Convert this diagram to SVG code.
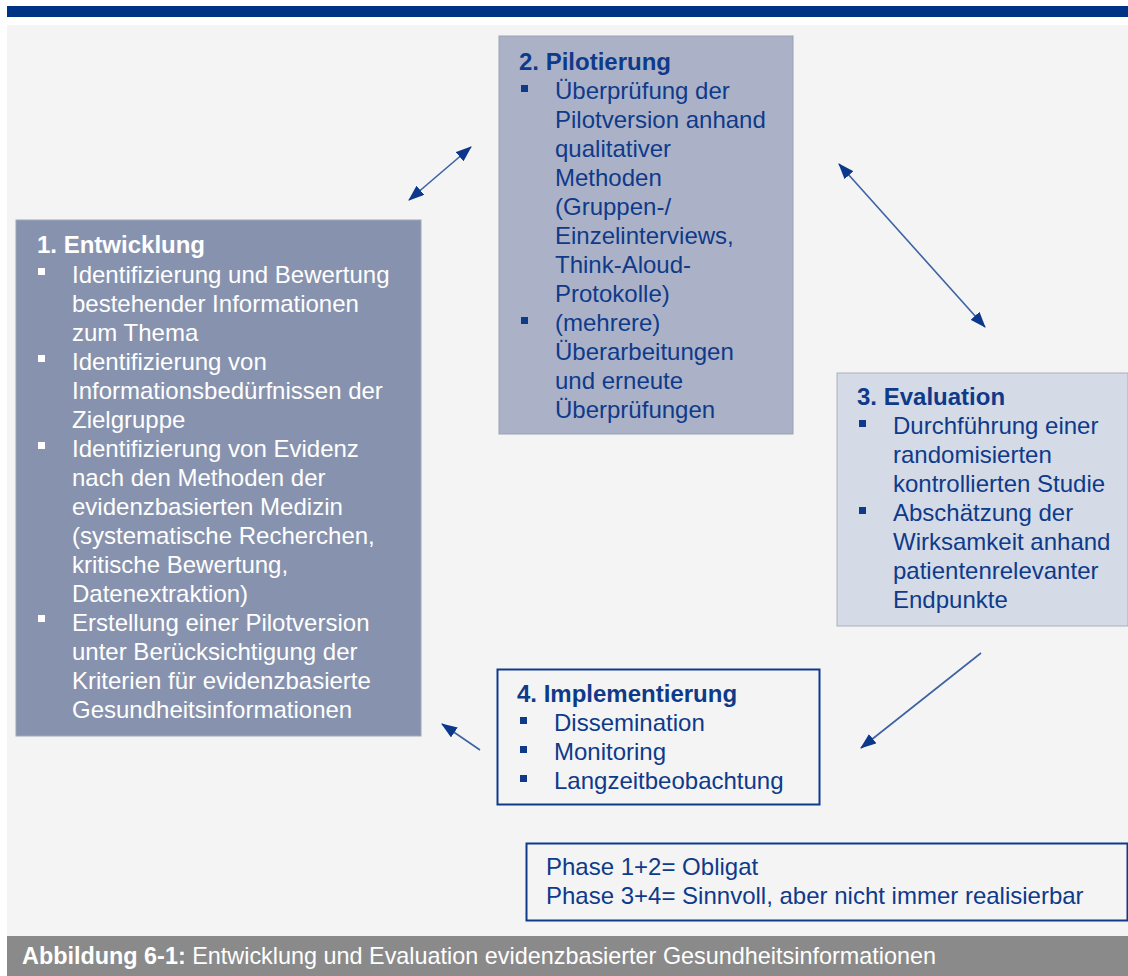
<svg xmlns="http://www.w3.org/2000/svg" width="1128" height="976" viewBox="0 0 1128 976">
<defs>
<style>
text{font-family:"Liberation Sans",Arial,sans-serif;font-size:24px}
.w{fill:#ffffff}
.b{fill:#0f3a8a}
.t{font-weight:bold}
.bw{fill:#ffffff}
.bb{fill:#0f3a8a}
.con{stroke:#3d62a3;stroke-width:1.6;fill:none}
.cap{font-size:23.4px;fill:#ffffff}
</style>
<marker id="ah" viewBox="0 0 16 12" refX="15" refY="6" markerWidth="16" markerHeight="12" markerUnits="userSpaceOnUse" orient="auto-start-reverse">
<path d="M0,0 L16,6 L0,12 z" fill="#0b388a"/>
</marker>
</defs>
<rect x="0" y="0" width="1128" height="976" fill="#ffffff"/>
<rect x="7" y="6" width="1121" height="11" fill="#003383"/>
<rect x="7" y="25" width="1121" height="911" fill="#f4f4f4"/>

<g id="connectors">
<line class="con" x1="409" y1="200" x2="471" y2="147" marker-start="url(#ah)" marker-end="url(#ah)"/>
<line class="con" x1="839" y1="164" x2="985" y2="327" marker-start="url(#ah)" marker-end="url(#ah)"/>
<line class="con" x1="981" y1="653" x2="861" y2="748" marker-end="url(#ah)"/>
<line class="con" x1="480" y1="750" x2="442" y2="724" marker-end="url(#ah)"/>
</g>

<g id="node1">
<rect x="16" y="220" width="405" height="516" fill="#8793ae" stroke="#9ea6b8" stroke-width="1"/>
<text class="w t" x="37" y="253">1. Entwicklung</text>
<g class="bw">
<rect x="38" y="268" width="7" height="7"/>
<rect x="38" y="355" width="7" height="7"/>
<rect x="38" y="442" width="7" height="7"/>
<rect x="38" y="615" width="7" height="7"/>
</g>
<text class="w">
<tspan x="72" y="283">Identifizierung und Bewertung</tspan>
<tspan x="72" y="312">bestehender Informationen</tspan>
<tspan x="72" y="341">zum Thema</tspan>
<tspan x="72" y="370">Identifizierung von</tspan>
<tspan x="72" y="399">Informationsbedürfnissen der</tspan>
<tspan x="72" y="428">Zielgruppe</tspan>
<tspan x="72" y="457">Identifizierung von Evidenz</tspan>
<tspan x="72" y="486">nach den Methoden der</tspan>
<tspan x="72" y="515">evidenzbasierten Medizin</tspan>
<tspan x="72" y="544">(systematische Recherchen,</tspan>
<tspan x="72" y="573">kritische Bewertung,</tspan>
<tspan x="72" y="602">Datenextraktion)</tspan>
<tspan x="72" y="631">Erstellung einer Pilotversion</tspan>
<tspan x="72" y="660">unter Berücksichtigung der</tspan>
<tspan x="72" y="689">Kriterien für evidenzbasierte</tspan>
<tspan x="72" y="718">Gesundheitsinformationen</tspan>
</text>
</g>

<g id="node2">
<rect x="499" y="36" width="294" height="398" fill="#abb2c7" stroke="#9aa1b2" stroke-width="1"/>
<text class="b t" x="519" y="70">2. Pilotierung</text>
<g class="bb">
<rect x="521" y="85" width="7" height="7"/>
<rect x="521" y="317" width="7" height="7"/>
</g>
<text class="b">
<tspan x="555" y="99">Überprüfung der</tspan>
<tspan x="555" y="128">Pilotversion anhand</tspan>
<tspan x="555" y="157">qualitativer</tspan>
<tspan x="555" y="186">Methoden</tspan>
<tspan x="555" y="215">(Gruppen-/</tspan>
<tspan x="555" y="244">Einzelinterviews,</tspan>
<tspan x="555" y="273">Think-Aloud-</tspan>
<tspan x="555" y="302">Protokolle)</tspan>
<tspan x="555" y="331">(mehrere)</tspan>
<tspan x="555" y="360">Überarbeitungen</tspan>
<tspan x="555" y="389">und erneute</tspan>
<tspan x="555" y="418">Überprüfungen</tspan>
</text>
</g>

<g id="node3">
<rect x="837" y="373" width="291" height="253" fill="#d4dae6" stroke="#a9afba" stroke-width="1"/>
<text class="b t" x="857" y="405">3. Evaluation</text>
<g class="bb">
<rect x="859" y="420" width="7" height="7"/>
<rect x="859" y="507" width="7" height="7"/>
</g>
<text class="b">
<tspan x="893" y="434">Durchführung einer</tspan>
<tspan x="893" y="463">randomisierten</tspan>
<tspan x="893" y="492">kontrollierten Studie</tspan>
<tspan x="893" y="521">Abschätzung der</tspan>
<tspan x="893" y="550">Wirksamkeit anhand</tspan>
<tspan x="893" y="579">patientenrelevanter</tspan>
<tspan x="893" y="608">Endpunkte</tspan>
</text>
</g>

<g id="node4">
<rect x="497.5" y="669.5" width="322" height="135" fill="none" stroke="#0f3a8a" stroke-width="2"/>
<text class="b t" x="517" y="702">4. Implementierung</text>
<g class="bb">
<rect x="520" y="717" width="7" height="7"/>
<rect x="520" y="746" width="7" height="7"/>
<rect x="520" y="775" width="7" height="7"/>
</g>
<text class="b">
<tspan x="554" y="731">Dissemination</tspan>
<tspan x="554" y="760">Monitoring</tspan>
<tspan x="554" y="789">Langzeitbeobachtung</tspan>
</text>
</g>

<g id="legend">
<rect x="526.5" y="843.5" width="601" height="77" fill="none" stroke="#0f3a8a" stroke-width="2"/>
<text class="b">
<tspan x="546" y="875">Phase 1+2= Obligat</tspan>
<tspan x="546" y="904">Phase 3+4= Sinnvoll, aber nicht immer realisierbar</tspan>
</text>
</g>

<g id="caption">
<rect x="7" y="936" width="1121" height="40" fill="#8a8a8a"/>
<text class="cap" x="22" y="964"><tspan font-weight="bold">Abbildung 6-1:</tspan> Entwicklung und Evaluation evidenzbasierter Gesundheitsinformationen</text>
</g>
</svg>
